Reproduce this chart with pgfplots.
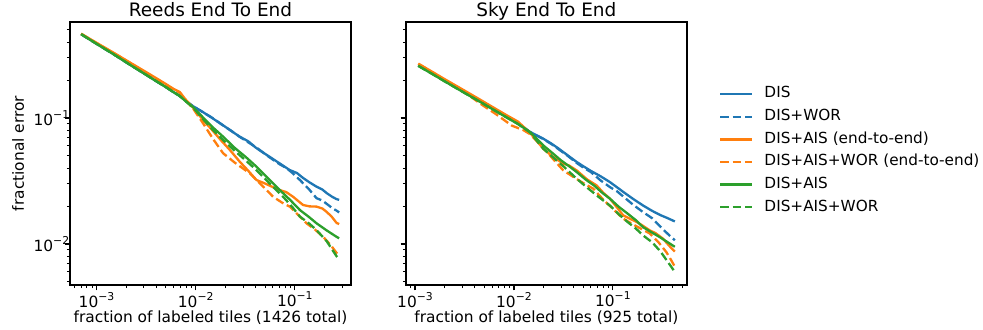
\documentclass[border=0pt]{standalone}
\usepackage{fontspec}
\setmainfont{DejaVu Sans}
\usepackage{pgfplots}
\pgfplotsset{compat=1.18}
\definecolor{cb}{HTML}{1F77B4}
\definecolor{co}{HTML}{FF7F0E}
\definecolor{cg}{HTML}{2CA02C}
\newcommand{\tp}[1]{10\raisebox{0.45em}{\fontsize{7.8}{8}\selectfont −#1}}
\tikzset{dsh/.style={dash pattern=on 6.2pt off 2.7pt}}
\begin{document}
\begin{tikzpicture}
\useasboundingbox (-50.4pt,-32.4pt) rectangle (657.4pt,205.2pt);
\begin{axis}[xmode=log, ymode=log,
  scale only axis, width=202.3pt, height=189.4pt,
  ymin=0.00473, ymax=0.578,
  axis line style={line width=0.89pt},
  tick align=outside, tick pos=left,
  major tick length=3.9pt, minor tick length=2.2pt,
  major tick style={line width=0.89pt, black},
  minor tick style={line width=0.67pt, black},
  xtick={0.001,0.01,0.1}, xticklabels={\tp{3},\tp{2},\tp{1}},
  minor xtick={5e-4,6e-4,7e-4,8e-4,9e-4,2e-3,3e-3,4e-3,5e-3,6e-3,7e-3,8e-3,9e-3,2e-2,3e-2,4e-2,5e-2,6e-2,7e-2,8e-2,9e-2,2e-1,3e-1,4e-1,5e-1},
  ytick={0.01,0.1},
  minor ytick={5e-3,6e-3,7e-3,8e-3,9e-3,2e-2,3e-2,4e-2,5e-2,6e-2,7e-2,8e-2,9e-2,2e-1,3e-1,4e-1,5e-1},
  tick label style={font=\fontsize{11.1}{13}\selectfont},
  xticklabel style={inner sep=0.5pt, yshift=-0.5pt},
  yticklabel style={inner sep=0pt, xshift=3.5pt},
  title style={font=\fontsize{13.3}{15}\selectfont, anchor=base, yshift=-2.4pt},
  label style={font=\fontsize{11.1}{13}\selectfont},
  xlabel style={at={(axis description cs:0.5,0)}, anchor=base, yshift=-27pt, inner sep=0pt},
  ylabel style={at={([xshift=-37.4pt]axis description cs:0,0.5)}, anchor=center, inner sep=0pt},
  every axis plot/.append style={line width=1.67pt, line join=round},
  at={(0pt,0pt)}, anchor=south west,
  xmin=5.4e-4, xmax=0.368,
  title={Reeds End To End},
  xlabel={fraction of labeled tiles (1426 total)},
  ylabel={fractional error},
  yticklabels={\tp{2},\tp{1}}]
% DIS
\addplot[cb] coordinates {(7.0e-4,0.462) (1.0e-3,0.388) (1.5e-3,0.319) (2.2e-3,0.263) (3e-3,0.226) (4e-3,0.196) (5e-3,0.176) (6e-3,0.160) (6.9e-3,0.1496) (8.0e-3,0.136) (9.4e-3,0.124) (0.0115,0.113) (0.0145,0.1005) (0.0185,0.0885) (0.0225,0.0795) (0.0278,0.0711) (0.034,0.0652) (0.040,0.0585) (0.045,0.0548) (0.055,0.0495) (0.07,0.0437) (0.0889,0.0386) (0.105,0.0366) (0.12,0.0336) (0.14,0.0309) (0.1655,0.0285) (0.19,0.0270) (0.21,0.0253) (0.24,0.0236) (0.2635,0.0227) (0.28,0.0224)};
% DIS+WOR
\addplot[cb,dsh] coordinates {(7.0e-4,0.462) (1.0e-3,0.388) (1.5e-3,0.319) (2.2e-3,0.263) (3e-3,0.226) (4e-3,0.196) (5e-3,0.176) (6e-3,0.160) (6.9e-3,0.1496) (8.0e-3,0.136) (9.4e-3,0.124) (0.0115,0.1125) (0.0145,0.101) (0.0185,0.0882) (0.0225,0.0798) (0.0278,0.0708) (0.034,0.0640) (0.040,0.0590) (0.045,0.0552) (0.055,0.0490) (0.07,0.0430) (0.0824,0.0400) (0.095,0.0365) (0.1125,0.0322) (0.14,0.0270) (0.1655,0.0231) (0.19,0.0221) (0.21,0.0208) (0.24,0.0192) (0.2635,0.0184) (0.28,0.0178)};
% DIS+AIS (end-to-end)
\addplot[co] coordinates {(7.0e-4,0.466) (1.0e-3,0.395) (1.5e-3,0.328) (2.2e-3,0.274) (3e-3,0.237) (4e-3,0.207) (5e-3,0.186) (6e-3,0.170) (6.9e-3,0.161) (7.8e-3,0.142) (9.4e-3,0.121) (0.01186,0.0964) (0.0145,0.081) (0.018,0.0665) (0.022,0.0560) (0.0278,0.0450) (0.033,0.0390) (0.041,0.0322) (0.05,0.0302) (0.06,0.0283) (0.0705,0.0268) (0.082,0.0258) (0.096,0.0237) (0.121,0.0204) (0.14,0.0199) (0.1655,0.0198) (0.19,0.0191) (0.209,0.0180) (0.235,0.0165) (0.2635,0.0147) (0.28,0.0144)};
% DIS+AIS+WOR (end-to-end)
\addplot[co,dsh] coordinates {(7.0e-4,0.465) (1.0e-3,0.393) (1.5e-3,0.326) (2.2e-3,0.272) (3e-3,0.235) (4e-3,0.205) (5e-3,0.184) (6e-3,0.168) (6.9e-3,0.159) (7.8e-3,0.140) (9.4e-3,0.119) (0.01186,0.0908) (0.015,0.068) (0.0189,0.0525) (0.025,0.0440) (0.0351,0.0364) (0.045,0.0300) (0.0604,0.0237) (0.075,0.0212) (0.0889,0.0198) (0.11,0.0168) (0.131,0.0146) (0.16,0.0130) (0.193,0.0114) (0.23,0.0098) (0.2635,0.0085) (0.28,0.0082)};
% DIS+AIS
\addplot[cg] coordinates {(7.0e-4,0.462) (1.0e-3,0.388) (1.5e-3,0.319) (2.2e-3,0.263) (3e-3,0.226) (4e-3,0.196) (5e-3,0.176) (6e-3,0.160) (6.9e-3,0.1496) (8.0e-3,0.135) (9.4e-3,0.122) (0.012,0.100) (0.0150,0.0838) (0.0189,0.0711) (0.025,0.0575) (0.032,0.0490) (0.041,0.0411) (0.052,0.0340) (0.0705,0.0268) (0.09,0.0223) (0.1125,0.0186) (0.14,0.0163) (0.1655,0.0146) (0.21,0.0128) (0.2635,0.0114) (0.28,0.0111)};
% DIS+AIS+WOR
\addplot[cg,dsh] coordinates {(7.0e-4,0.462) (1.0e-3,0.388) (1.5e-3,0.319) (2.2e-3,0.263) (3e-3,0.226) (4e-3,0.196) (5e-3,0.176) (6e-3,0.160) (6.9e-3,0.1496) (8.0e-3,0.135) (9.4e-3,0.121) (0.012,0.097) (0.0150,0.080) (0.0189,0.0668) (0.025,0.0545) (0.032,0.0460) (0.041,0.0386) (0.055,0.0305) (0.0762,0.0237) (0.095,0.0195) (0.1125,0.0165) (0.14,0.0145) (0.1655,0.0129) (0.21,0.0105) (0.2635,0.0080) (0.28,0.0076)};
\end{axis}
\begin{axis}[xmode=log, ymode=log,
  scale only axis, width=202.3pt, height=189.4pt,
  ymin=0.00473, ymax=0.578,
  axis line style={line width=0.89pt},
  tick align=outside, tick pos=left,
  major tick length=3.9pt, minor tick length=2.2pt,
  major tick style={line width=0.89pt, black},
  minor tick style={line width=0.67pt, black},
  xtick={0.001,0.01,0.1}, xticklabels={\tp{3},\tp{2},\tp{1}},
  minor xtick={5e-4,6e-4,7e-4,8e-4,9e-4,2e-3,3e-3,4e-3,5e-3,6e-3,7e-3,8e-3,9e-3,2e-2,3e-2,4e-2,5e-2,6e-2,7e-2,8e-2,9e-2,2e-1,3e-1,4e-1,5e-1},
  ytick={0.01,0.1},
  minor ytick={5e-3,6e-3,7e-3,8e-3,9e-3,2e-2,3e-2,4e-2,5e-2,6e-2,7e-2,8e-2,9e-2,2e-1,3e-1,4e-1,5e-1},
  tick label style={font=\fontsize{11.1}{13}\selectfont},
  xticklabel style={inner sep=0.5pt, yshift=-0.5pt},
  title style={font=\fontsize{13.3}{15}\selectfont, anchor=base, yshift=-2.4pt},
  label style={font=\fontsize{11.1}{13}\selectfont},
  xlabel style={at={(axis description cs:0.5,0)}, anchor=base, yshift=-27pt, inner sep=0pt},
  every axis plot/.append style={line width=1.67pt, line join=round},
  at={(241.9pt,0pt)}, anchor=south west,
  xmin=8.1e-4, xmax=0.56,
  title={Sky End To End},
  xlabel={fraction of labeled tiles (925 total)},
  yticklabels={},
  legend style={at={(1,0.5)}, anchor=west, xshift=20pt, yshift=2pt, draw=none, fill=none,
    font=\fontsize{11}{13}\selectfont, row sep=6.3pt,
    nodes={inner sep=0pt, text height=7.7pt, text depth=2.3pt}},
  legend cell align=left,
  legend image code/.code={\draw[#1] (0pt,0pt) -- (23pt,0pt);},
  /tikz/every odd column/.append style={column sep=8pt}]
% DIS
\addplot[cb] coordinates {(1.08e-3,0.261) (1.5e-3,0.225) (2e-3,0.197) (3e-3,0.1635) (4.5e-3,0.136) (6.5e-3,0.1148) (8.5e-3,0.1016) (0.011,0.0905) (0.0145,0.0775) (0.0198,0.0685) (0.024,0.0625) (0.028,0.0575) (0.035,0.0505) (0.043,0.0448) (0.05,0.0415) (0.06,0.0380) (0.075,0.0345) (0.0933,0.0310) (0.11,0.0282) (0.13,0.0256) (0.16,0.0228) (0.202,0.0202) (0.25,0.0183) (0.3,0.0170) (0.36,0.0160) (0.423,0.0151)};
% DIS+WOR
\addplot[cb,dsh] coordinates {(1.08e-3,0.261) (1.5e-3,0.225) (2e-3,0.197) (3e-3,0.1635) (4.5e-3,0.136) (6.5e-3,0.1148) (8.5e-3,0.1016) (0.011,0.0905) (0.0145,0.0775) (0.0198,0.0680) (0.024,0.0620) (0.028,0.0568) (0.035,0.0500) (0.043,0.0440) (0.05,0.0405) (0.06,0.0372) (0.075,0.0320) (0.0933,0.0283) (0.11,0.0262) (0.13,0.0235) (0.16,0.0205) (0.202,0.0179) (0.25,0.0160) (0.3,0.0138) (0.36,0.0120) (0.423,0.0107)};
% DIS+AIS (end-to-end)
\addplot[co] coordinates {(1.08e-3,0.270) (1.5e-3,0.232) (2e-3,0.203) (3e-3,0.169) (4.5e-3,0.1405) (6.5e-3,0.1185) (8.5e-3,0.1048) (0.011,0.0935) (0.0145,0.0765) (0.0198,0.0570) (0.025,0.0490) (0.0315,0.0434) (0.036,0.0420) (0.043,0.0384) (0.055,0.0325) (0.0684,0.0292) (0.08,0.0255) (0.0933,0.0229) (0.11,0.0195) (0.127,0.0169) (0.15,0.0158) (0.173,0.0150) (0.2,0.0140) (0.237,0.0128) (0.27,0.0122) (0.322,0.0110) (0.37,0.0097) (0.423,0.0087)};
% DIS+AIS+WOR (end-to-end)
\addplot[co,dsh] coordinates {(1.08e-3,0.268) (1.5e-3,0.230) (2e-3,0.200) (3e-3,0.165) (4.7e-3,0.128) (6.5e-3,0.108) (8.0e-3,0.096) (9.5e-3,0.087) (0.0125,0.080) (0.0145,0.0745) (0.0198,0.0580) (0.025,0.0470) (0.0315,0.0384) (0.04,0.0340) (0.05,0.0305) (0.0632,0.0275) (0.08,0.0225) (0.1,0.0190) (0.127,0.0159) (0.16,0.0143) (0.2,0.0130) (0.237,0.0121) (0.29,0.0103) (0.348,0.0086) (0.39,0.0074) (0.423,0.0066)};
% DIS+AIS
\addplot[cg] coordinates {(1.08e-3,0.259) (1.5e-3,0.223) (2e-3,0.195) (3e-3,0.162) (4.5e-3,0.135) (6.5e-3,0.1138) (8.5e-3,0.1006) (0.011,0.0895) (0.0145,0.0775) (0.0198,0.0606) (0.025,0.0520) (0.03,0.0460) (0.036,0.0415) (0.043,0.0373) (0.053,0.0325) (0.065,0.0290) (0.078,0.0255) (0.0933,0.0229) (0.115,0.0197) (0.14,0.0175) (0.17,0.0155) (0.202,0.0136) (0.25,0.0123) (0.3,0.0113) (0.36,0.0103) (0.423,0.0095)};
% DIS+AIS+WOR
\addplot[cg,dsh] coordinates {(1.08e-3,0.259) (1.5e-3,0.223) (2e-3,0.195) (3e-3,0.162) (4.5e-3,0.135) (6.5e-3,0.1138) (8.5e-3,0.1006) (0.011,0.0895) (0.0145,0.0770) (0.0198,0.0570) (0.025,0.0485) (0.032,0.0410) (0.043,0.0330) (0.055,0.0280) (0.07,0.0240) (0.0933,0.0202) (0.115,0.0172) (0.14,0.0150) (0.17,0.0133) (0.202,0.0117) (0.25,0.0103) (0.3,0.0088) (0.36,0.0072) (0.423,0.0060)};
\legend{DIS, DIS+WOR, DIS+AIS (end-to-end), DIS+AIS+WOR (end-to-end), DIS+AIS, DIS+AIS+WOR}
\end{axis}
\end{tikzpicture}
\end{document}
